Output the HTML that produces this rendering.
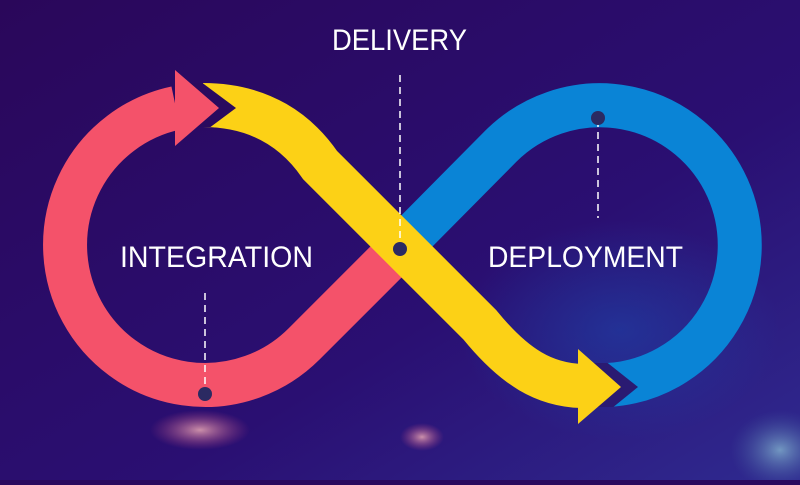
<!DOCTYPE html>
<html><head><meta charset="utf-8"><style>
html,body{margin:0;padding:0;}
body{width:800px;height:480px;overflow:hidden;background:#2a0a5e;}
</style></head><body>
<svg width="800" height="480" viewBox="0 0 800 480" xmlns="http://www.w3.org/2000/svg">
<defs>
<linearGradient id="bg" x1="0" y1="0" x2="1" y2="1">
<stop offset="0" stop-color="#2a075a"/>
<stop offset="0.6" stop-color="#2a0f72"/>
<stop offset="1" stop-color="#2f2a90"/>
</linearGradient>
<radialGradient id="g1"><stop offset="0" stop-color="#f3b0b8" stop-opacity="0.8"/><stop offset="1" stop-color="#c0407a" stop-opacity="0"/></radialGradient>
<radialGradient id="g2"><stop offset="0" stop-color="#8fc7d8" stop-opacity="0.7"/><stop offset="1" stop-color="#4060a0" stop-opacity="0"/></radialGradient>
<radialGradient id="g3"><stop offset="0" stop-color="#1a4ab0" stop-opacity="0.5"/><stop offset="1" stop-color="#1a4ab0" stop-opacity="0"/></radialGradient>
<clipPath id="cb"><rect x="585" y="363" width="70" height="44"/></clipPath>
<clipPath id="cy"><rect x="180" y="83" width="70" height="44"/></clipPath>
</defs>
<rect width="800" height="480" fill="url(#bg)"/>
<ellipse cx="620" cy="330" rx="160" ry="110" fill="url(#g3)"/>
<ellipse cx="200" cy="430" rx="50" ry="20" fill="url(#g1)"/>
<ellipse cx="422" cy="437" rx="22" ry="14" fill="url(#g1)"/>
<ellipse cx="780" cy="450" rx="50" ry="40" fill="url(#g2)"/>

<!-- blue loop -->
<path d="M400 248 L501 146 A140 140 0 1 1 608 385" fill="none" stroke="#0a84d6" stroke-width="44"/>
<!-- red loop -->
<path d="M400 248 L304 344 A140 140 0 1 1 176 108" fill="none" stroke="#f4526a" stroke-width="44"/>
<!-- yellow -->
<path d="M203 105 C262 105 298 133 320 165 L480 325 C515 368 545 385 582 386" fill="none" stroke="#fcd116" stroke-width="44"/>
<!-- notch gaps -->
<polygon points="185,70 236,108 185,146" fill="#2a0a5e" clip-path="url(#cy)"/>
<polygon points="585,345 638,387 585,430" fill="#2a1a72" clip-path="url(#cb)"/>
<!-- red arrowhead -->
<polygon points="175,70 219,108 175,146" fill="#f4526a"/>
<!-- yellow arrowhead -->
<polygon points="578,349 621,387 578,424" fill="#fcd116"/>

<!-- dashed lines and dots -->
<g stroke="#fff" stroke-width="1.5" stroke-dasharray="7,5" fill="none">
<line x1="400" y1="75" x2="400" y2="245"/>
<line x1="598" y1="120" x2="598" y2="218"/>
<line x1="205" y1="293" x2="205" y2="392"/>
</g>
<g fill="#2b2a62">
<circle cx="400" cy="249" r="7"/>
<circle cx="598" cy="118" r="7"/>
<circle cx="205" cy="394" r="7"/>
</g>

<g font-family="Liberation Sans, sans-serif" font-size="30" fill="#fff">
<text x="332" y="50" textLength="135" lengthAdjust="spacingAndGlyphs">DELIVERY</text>
<text x="120" y="267" textLength="193" lengthAdjust="spacingAndGlyphs">INTEGRATION</text>
<text x="488" y="267" textLength="195" lengthAdjust="spacingAndGlyphs">DEPLOYMENT</text>
</g>
</svg>
</body></html>
